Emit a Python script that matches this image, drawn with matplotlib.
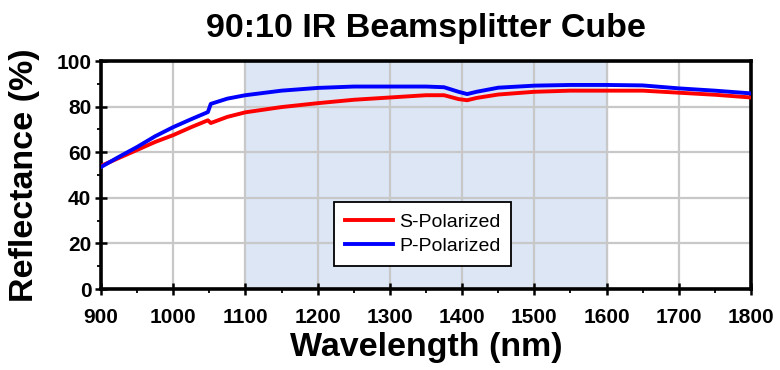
import matplotlib
matplotlib.use("Agg")
import matplotlib.pyplot as plt
from matplotlib.ticker import MultipleLocator

# wavelength (nm) and reflectance (%)
wl = [900, 925, 950, 975, 1000, 1025, 1048, 1052, 1075, 1100, 1150, 1200, 1250, 1300,
      1350, 1375, 1395, 1407, 1420, 1450, 1500, 1550, 1600, 1650, 1700, 1750, 1800]
s_pol = [54.0, 57.5, 61.0, 64.5, 67.5, 71.0, 74.0, 72.8, 75.5, 77.5, 79.8, 81.5, 83.0, 84.0,
         85.0, 85.0, 83.3, 82.8, 83.8, 85.3, 86.5, 87.0, 87.0, 87.0, 86.1, 85.2, 84.0]
p_pol = [53.5, 58.0, 62.3, 67.0, 71.0, 74.5, 77.6, 81.2, 83.5, 85.0, 87.0, 88.2, 88.8, 88.8,
         88.8, 88.5, 86.5, 85.5, 86.5, 88.3, 89.2, 89.5, 89.5, 89.3, 88.0, 87.0, 85.8]
band = (1100, 1600)

font = ["Liberation Sans", "DejaVu Sans"]

fig = plt.figure(figsize=(7.8, 3.7), dpi=100)
ax = fig.add_axes([0.1295, 0.2189, 0.8333, 0.6162])

ax.axvspan(band[0], band[1], color="#dce6f5", zorder=0)
ax.plot(wl, s_pol, color="#ff0000", lw=2.8, label="S-Polarized", zorder=3)
ax.plot(wl, p_pol, color="#0000ff", lw=2.8, label="P-Polarized", zorder=3)

ax.set_xlim(900, 1800)
ax.set_ylim(0, 100)
ax.xaxis.set_major_locator(MultipleLocator(100))
ax.xaxis.set_minor_locator(MultipleLocator(50))
ax.yaxis.set_major_locator(MultipleLocator(20))
ax.yaxis.set_minor_locator(MultipleLocator(10))
ax.grid(True, which="major", color="#c8c8c8", lw=1.6, zorder=1)
ax.set_axisbelow(True)

for sp in ax.spines.values():
    sp.set_linewidth(2.6)
ax.tick_params(which="major", direction="inout", length=8, width=1.8)
ax.tick_params(which="minor", direction="out", length=3, width=1.3)
ax.tick_params(axis="x", which="major", pad=10)
ax.tick_params(axis="y", which="major", pad=3)

for lab in ax.get_xticklabels() + ax.get_yticklabels():
    lab.set_family(font)
    lab.set_fontweight("bold")
    lab.set_fontsize(15)

ax.set_xlabel("Wavelength (nm)", family=font, fontweight="bold", fontsize=24.5, labelpad=3)
ax.set_ylabel("Reflectance (%)", family=font, fontweight="bold", fontsize=24.5, labelpad=12)
ax.set_title("90:10 IR Beamsplitter Cube", family=font, fontweight="bold", fontsize=24.5, pad=17)

leg = ax.legend(loc="center", bbox_to_anchor=(0.495, 0.241),
                prop={"family": font, "size": 14}, fancybox=False, framealpha=1,
                edgecolor="black", handlelength=2.5, handletextpad=0.3,
                borderpad=0.55, labelspacing=0.35, borderaxespad=0)
leg.get_frame().set_linewidth(1.3)

plt.savefig("out.png", dpi=100)
